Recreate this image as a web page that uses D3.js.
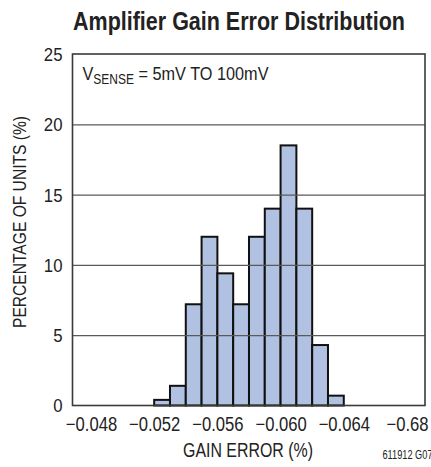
<!DOCTYPE html>
<html>
<head>
<meta charset="utf-8">
<script src="https://cdn.jsdelivr.net/npm/d3@7"></script>
<style>
  html, body { margin: 0; padding: 0; background: #fff; }
  svg { display: block; font-family: "Liberation Sans", Arial, Helvetica, sans-serif; }
</style>
</head>
<body>
<svg id="chart" width="431" height="467"></svg>
<script>
// ---- data ----
const binStart = [-0.052, -0.053, -0.054, -0.055, -0.056, -0.057, -0.058, -0.059, -0.060, -0.061, -0.062, -0.063];
const binEnd   = [-0.053, -0.054, -0.055, -0.056, -0.057, -0.058, -0.059, -0.060, -0.061, -0.062, -0.063, -0.064];
const percentUnits = [0.4, 1.4, 7.2, 12.0, 9.4, 7.2, 12.0, 14.0, 18.5, 14.0, 4.3, 0.7];
const xTickValues = [-0.048, -0.052, -0.056, -0.060, -0.064, -0.068];
const xTickLabels = ["\u22120.048", "\u22120.052", "\u22120.056", "\u22120.060", "\u22120.064", "\u22120.68"];
const yTickValues = [0, 5, 10, 15, 20, 25];
const titleText = "Amplifier Gain Error Distribution";
const xLabelText = "GAIN ERROR (%)";
const yLabelText = "PERCENTAGE OF UNITS (%)";
const noteText = "611912 G07";

// ---- layout ----
const svg = d3.select("#chart");
const L = 72.5, R = 425, T = 54, B = 405.5;

const x = d3.scaleLinear().domain([-0.04683, -0.06914]).range([L, R]);
const y = d3.scaleLinear().domain([0, 25]).range([B, T]);

function fit(sel, w) {
  sel.attr("textLength", w).attr("lengthAdjust", "spacingAndGlyphs");
}
function condense(sel, ratio) {
  sel.each(function () {
    const len = this.getComputedTextLength();
    d3.select(this).attr("textLength", len * ratio).attr("lengthAdjust", "spacingAndGlyphs");
  });
}

const bars = binStart.map((s, i) => ({ s, e: binEnd[i], v: percentUnits[i] }));

// bars
svg.append("g").selectAll("rect").data(bars).join("rect")
  .attr("x", d => x(d.s))
  .attr("width", d => x(d.e) - x(d.s))
  .attr("y", d => y(d.v))
  .attr("height", d => y(0) - y(d.v))
  .attr("fill", "#b1c1e1")
  .attr("stroke", "#111")
  .attr("stroke-width", 2);

// gridlines (drawn over bars)
const yAxis = d3.axisLeft(y).tickValues(yTickValues).tickSize(-(R - L)).tickPadding(10).tickFormat(d3.format("d"));
const gy = svg.append("g").attr("transform", `translate(${L},0)`).call(yAxis);
gy.select(".domain").remove();
gy.selectAll(".tick line").attr("stroke", "#5a5a5a").attr("stroke-width", 1.2)
  .filter(d => d === 0 || d === 25).remove();
gy.selectAll(".tick text").attr("font-size", 18).attr("fill", "#222")
  .attr("font-family", "Liberation Sans, Arial, sans-serif").attr("dy", "0.36em");
condense(gy.selectAll(".tick text"), 0.93);

// frame
svg.append("rect").attr("x", L).attr("y", T).attr("width", R - L).attr("height", B - T)
  .attr("fill", "none").attr("stroke", "#3a3a3a").attr("stroke-width", 1.6);

// x axis labels
const xAxis = d3.axisBottom(x).tickValues(xTickValues).tickSize(0).tickPadding(0)
  .tickFormat((d, i) => xTickLabels[i]);
const gx = svg.append("g").attr("transform", `translate(0,${B})`).call(xAxis);
gx.select(".domain").remove();
gx.selectAll(".tick text").attr("font-size", 20).attr("fill", "#222")
  .attr("font-family", "Liberation Sans, Arial, sans-serif")
  .attr("y", 25).attr("dy", 0);
condense(gx.selectAll(".tick text"), 0.83);

// title
svg.append("text").attr("x", 239).attr("y", 30).attr("text-anchor", "middle")
  .attr("font-size", 25).attr("font-weight", "bold").attr("fill", "#222")
  .text(titleText).call(fit, 332);

// annotation
const note = svg.append("text").attr("x", 82.5).attr("y", 80).attr("fill", "#222").attr("font-size", 19);
note.append("tspan").text("V");
note.append("tspan").attr("font-size", 14).attr("dy", 4).text("SENSE");
note.append("tspan").attr("dy", -4).text(" = 5mV TO 100mV");
note.call(fit, 186);

// axis titles
svg.append("text").attr("x", 248).attr("y", 456.5).attr("text-anchor", "middle")
  .attr("font-size", 20).attr("fill", "#222").text(xLabelText).call(fit, 130);

svg.append("text").attr("transform", "translate(26,222) rotate(-90)").attr("text-anchor", "middle")
  .attr("font-size", 18).attr("fill", "#222").text(yLabelText).call(fit, 212);

svg.append("text").attr("x", 382.5).attr("y", 459).attr("font-size", 12).attr("fill", "#222")
  .text(noteText).call(fit, 50);
</script>
</body>
</html>
